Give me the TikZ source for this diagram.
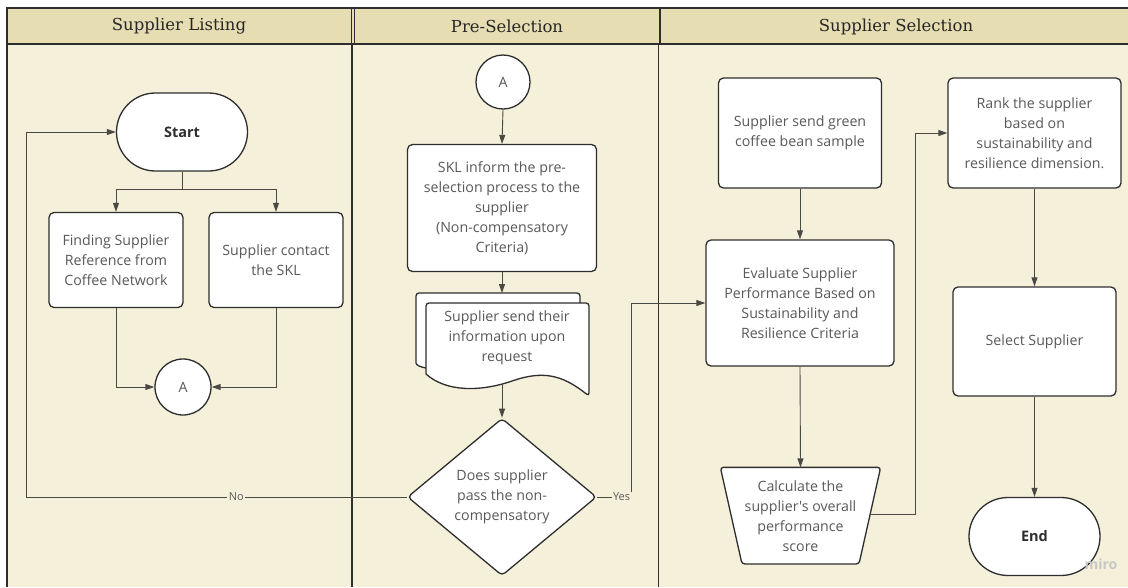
\documentclass[tikz,border=0pt]{standalone}
\usepackage{fontspec}
\setmainfont{DejaVu Serif}
\newfontfamily\boxfont{Open Sans}
\usetikzlibrary{arrows.meta,shapes.misc,shapes.geometric,positioning}

\definecolor{headbg}{HTML}{E6DEB2}
\definecolor{bodybg}{HTML}{F5F0DA}
\definecolor{edge}{HTML}{2E2E2E}
\definecolor{txt}{HTML}{595959}
\definecolor{wire}{HTML}{4A4A44}

\tikzset{
	lane/.style={draw=edge, line width=1.6pt},
	lanetitle/.style={font=\fontsize{16.5}{19}\selectfont, text=black!85},
	shapebase/.style={draw=edge, fill=white, line width=1.3pt, align=center, inner sep=2pt,
		font=\boxfont\fontsize{14.2}{20}\selectfont, text=txt},
	process/.style={shapebase, rectangle, rounded corners=5pt},
	terminal/.style={shapebase, rounded rectangle, minimum width=135pt, minimum height=78pt,
		font=\boxfont\bfseries\fontsize{14.5}{20}\selectfont, text=edge},
	offpage/.style={shapebase, circle, minimum size=56pt},
	decision/.style={shapebase, diamond, rounded corners=4pt, minimum width=189pt, minimum height=153pt},
	sheet/.style={draw=edge, fill=white, line width=1.3pt, rounded corners=3pt},
	flow/.style={draw=wire, line width=0.9pt, -{Triangle[length=9pt,width=6pt]}},
	wireline/.style={draw=wire, line width=0.9pt},
	lbl/.style={fill=bodybg, font=\boxfont\fontsize{11}{12}\selectfont, text=txt, inner sep=1.5pt}
}

\begin{document}
\begin{tikzpicture}[x=1pt,y=-1pt]
	%%%%% LANES %%%%%
	\useasboundingbox (0,0) rectangle (1128,587);
	\fill[headbg] (7,8) rectangle (1128,44);
	\fill[bodybg] (7,44) rectangle (1128,587);
	\draw[lane] (7,587) -- (7,8) -- (1128,8);
	\draw[lane] (7,44) -- (1128,44);
	\draw[edge, line width=1pt] (351.5,8) -- (351.5,44);
	\draw[edge, line width=1pt] (354.5,8) -- (354.5,44);
	\draw[lane] (352,44) -- (352,587);
	\draw[lane] (660,8) -- (660,44);
	\draw[lane] (658.5,44) -- (658.5,587);
	
	\node[lanetitle] (listing) at (179,26.5) {Supplier Listing};
	\node[lanetitle] (presel) at (507,26.5) {Pre-Selection};
	\node[lanetitle] (selection) at (896,26.5) {Supplier Selection};
	
	%%%%% SUPPLIER LISTING %%%%%
	\node[terminal] (start) at (182,132) {Start};
	\node[process, minimum width=134pt, minimum height=95pt] (find) at (116,260)
		{Finding Supplier\\Reference from\\Coffee Network};
	\node[process, minimum width=134pt, minimum height=95pt] (contact) at (276,260)
		{Supplier contact\\the SKL};
	\node[offpage] (aL) at (183,387) {A};
	
	\coordinate (split) at (182,189);
	\draw[wireline] (start.south) -- (split);
	\draw[flow] (split) -| (find.north);
	\draw[flow] (split) -| (contact.north);
	\draw[flow] (find.south) |- (aL.west);
	\draw[flow] (contact.south) |- (aL.east);
	
	%%%%% PRE-SELECTION %%%%%
	\node[offpage, minimum size=54pt] (aM) at (503,82) {A};
	\node[process, minimum width=189pt, minimum height=127pt] (inform) at (502,208)
		{SKL inform the pre-\\selection process to the\\supplier\\(Non-compensatory\\Criteria)};
	
	% stacked documents
	\draw[sheet] (426,368) .. controls (420,367) and (416,365) .. (416,360) -- (416,293)
		-- (580,293) -- (580,306);
	\draw[sheet] (426,374) -- (426,303) -- (589,303) -- (589,396)
		.. controls (566,378) and (548,370) .. (515,380)
		.. controls (480,392) and (446,392) .. (426,374);
	\node[shapebase, draw=none, fill=none, minimum width=163pt] (info) at (507,338)
		{Supplier send their\\information upon\\request};
	\coordinate (infoTop) at (502,293);
	\coordinate (infoBot) at (502,384);
	
	\node[decision] (dia) at (502,497) {Does supplier\\pass the non-\\compensatory};
	
	\draw[flow] (aM.south) -- (inform.north);
	\draw[flow] (inform.south) -- (infoTop);
	\draw[flow] (infoBot) -- (dia.north);
	
	%%%%% SUPPLIER SELECTION %%%%%
	\node[process, minimum width=163pt, minimum height=110pt] (sample) at (800,133)
		{Supplier send green\\coffee bean sample};
	\node[process, minimum width=188pt, minimum height=126pt] (eval) at (800,303)
		{Evaluate Supplier\\Performance Based on\\Sustainability and\\Resilience Criteria};
	\node[shapebase, draw=none, fill=none, minimum width=159pt, minimum height=96pt] (calc) at (800.5,516)
		{};
	\draw[sheet] (calc.north west) -- (calc.north east) -- (859,564) -- (742,564) -- cycle;
	\node[shapebase, draw=none, fill=none] (calctext) at (800.5,516)
		{Calculate the\\supplier's overall\\performance\\score};
	\coordinate (calcR) at (870,514);
	\coordinate (bendR) at (915,514);
	
	\node[process, minimum width=173pt, minimum height=110pt] (rank) at (1034.5,133)
		{Rank the supplier\\based on\\sustainability and\\resilience dimension.};
	\node[process, minimum width=163pt, minimum height=109pt] (select) at (1034.5,341.5)
		{Select Supplier};
	\node[terminal] (end) at (1034.5,536.5) {End};
	\node[text=black!22, font=\boxfont\bfseries\fontsize{14}{14}\selectfont] (miro) at (1101,564) {miro};
	
	\draw[flow] (sample.south) -- (eval.north);
	\draw[flow] (eval.south) -- (calc.north);
	\draw[flow] (calcR) -- (bendR) |- (rank.west);
	\draw[flow] (rank.south) -- (select.north);
	\draw[flow] (select.south) -- (end.north);
	
	%%%%% DECISION PATHS %%%%%
	\coordinate (loopL) at (26,497);
	\coordinate (yesC) at (631,497);
	\draw[flow] (dia.west) -- node[lbl, pos=0.448] {No} (loopL) |- (start.west);
	\draw[flow] (dia.east) -- node[lbl, pos=0.72] {Yes} (yesC) |- (eval.west);
\end{tikzpicture}
\end{document}
